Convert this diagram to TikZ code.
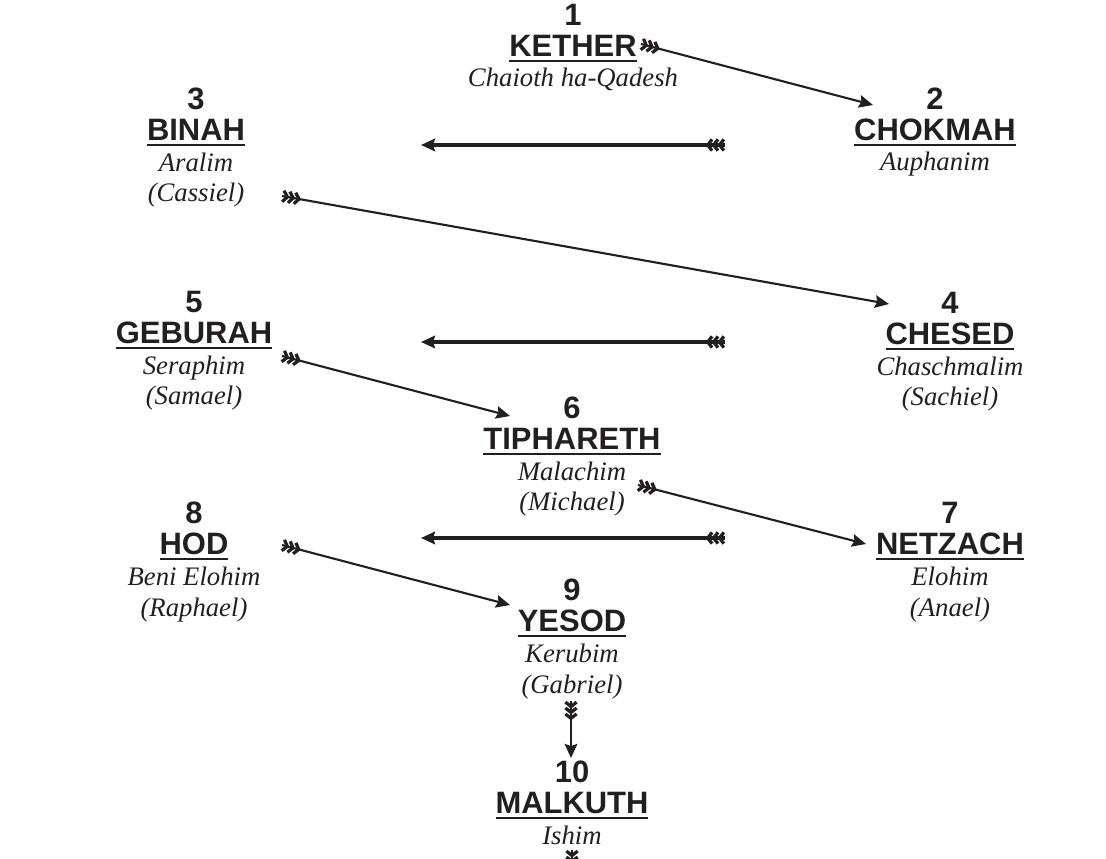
\documentclass[tikz,border=0pt]{standalone}
\usepackage{fontspec}
\setmainfont{Liberation Serif}
\setsansfont{Liberation Sans}
\usetikzlibrary{arrows.meta}
\definecolor{ink}{RGB}{35,31,32}

% three feathers at the back end of a shaft
\pgfdeclarearrow{
  name = Fletch,
  setup code = {
    \pgfarrowssettipend{0pt}
    \pgfarrowssetlineend{0pt}
    \pgfarrowssetbackend{-13pt}
    \pgfarrowssetvisualbackend{-13pt}
    \pgfarrowshullpoint{0pt}{4pt}
    \pgfarrowshullpoint{0pt}{-4pt}
    \pgfarrowshullpoint{-13pt}{0pt}
  },
  drawing code = {
    \pgfsetlinewidth{2.3pt}
    \pgfsetmiterjoin
    \pgfpathmoveto{\pgfqpoint{-0.8pt}{4pt}}\pgfpathlineto{\pgfqpoint{-3.9pt}{0pt}}\pgfpathlineto{\pgfqpoint{-0.8pt}{-4pt}}
    \pgfpathmoveto{\pgfqpoint{-5pt}{4pt}}\pgfpathlineto{\pgfqpoint{-8.1pt}{0pt}}\pgfpathlineto{\pgfqpoint{-5pt}{-4pt}}
    \pgfpathmoveto{\pgfqpoint{-9.2pt}{4pt}}\pgfpathlineto{\pgfqpoint{-12.3pt}{0pt}}\pgfpathlineto{\pgfqpoint{-9.2pt}{-4pt}}
    \pgfusepathqstroke
  }
}

\newcommand\sno[1]{{\sffamily\bfseries\upshape\fontsize{22}{22}\selectfont #1}}
\newcommand\sname[1]{{\sffamily\bfseries\upshape\fontsize{22}{22}\selectfont
  \setbox0\hbox{#1}\vtop{\copy0\kern2.6pt\hrule height 1.7pt}}}

\tikzset{
  sephira/.style={anchor=base, align=center, inner sep=0pt, text=ink,
    font=\itshape\fontsize{19}{22}\selectfont},
  flight/.style={draw=ink, line width=1.5pt,
    {Fletch}-{Stealth[length=10pt,width=9pt,inset=1.5pt]}},
  crossflight/.style={flight, line width=2.2pt}
}

\begin{document}
\begin{tikzpicture}[x=0.025cm,y=-0.025cm]
  \useasboundingbox (0,0) rectangle (1106,859);
  % base anchor sits on the last line
  \node (1) at (573,87) [sephira] {\sno{1}\\\sname{KETHER}\\Chaioth ha-Qadesh};
  \node (2) at (935,171) [sephira] {\sno{2}\\\sname{CHOKMAH}\\Auphanim};
  \node (3) at (196,202) [sephira] {\sno{3}\\\sname{BINAH}\\Aralim\\(Cassiel)};
  \node (4) at (950,406) [sephira] {\sno{4}\\\sname{CHESED}\\Chaschmalim\\(Sachiel)};
  \node (5) at (194,405) [sephira] {\sno{5}\\\sname{GEBURAH}\\Seraphim\\(Samael)};
  \node (6) at (572,511) [sephira] {\sno{6}\\\sname{TIPHARETH}\\Malachim\\(Michael)};
  \node (7) at (950,616) [sephira] {\sno{7}\\\sname{NETZACH}\\Elohim\\(Anael)};
  \node (8) at (194,616) [sephira] {\sno{8}\\\sname{HOD}\\Beni Elohim\\(Raphael)};
  \node (9) at (572,693) [sephira] {\sno{9}\\\sname{YESOD}\\Kerubim\\(Gabriel)};
  \node (10) at (572,844) [sephira] {\sno{10}\\\sname{MALKUTH}\\Ishim};

  \coordinate (1t) at (641,44);   \coordinate (2h) at (873,105);
  \coordinate (23r) at (725,145); \coordinate (23l) at (421,145);
  \coordinate (3t) at (282,196);  \coordinate (4h) at (889,304);
  \coordinate (45r) at (725,342); \coordinate (45l) at (421,342);
  \coordinate (5t) at (282,356);  \coordinate (6h) at (510,416);
  \coordinate (6t) at (638,485);  \coordinate (7h) at (866,544);
  \coordinate (78r) at (725,538); \coordinate (78l) at (421,538);
  \coordinate (8t) at (282,545);  \coordinate (9h) at (510,605);
  \coordinate (9t) at (571,701);  \coordinate (10h) at (571,758);
  \coordinate (10t) at (572,850); \coordinate (below) at (572,950);

  \draw[flight] (1t) to (2h);
  \draw[crossflight] (23r) to (23l);
  \draw[flight] (3t) to (4h);
  \draw[crossflight] (45r) to (45l);
  \draw[flight] (5t) to (6h);
  \draw[flight] (6t) to (7h);
  \draw[crossflight] (78r) to (78l);
  \draw[flight] (8t) to (9h);
  \draw[flight] (9t) to (10h);
  \draw[flight] (10t) to (below);
\end{tikzpicture}
\end{document}
